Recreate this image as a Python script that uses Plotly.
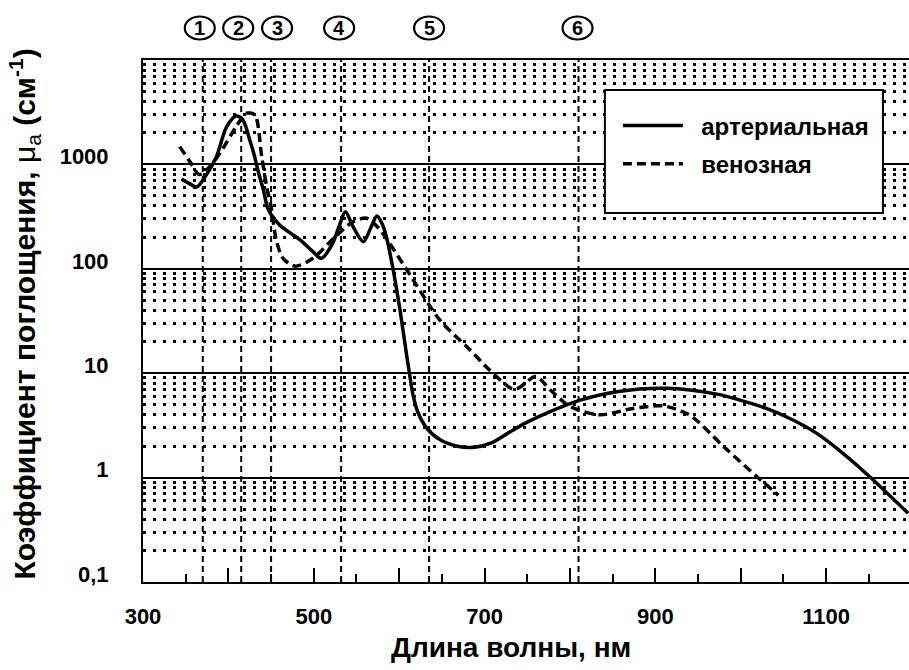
import plotly.graph_objects as go

# ---- data ----
art_wl = [345, 355, 363, 374, 386, 398, 409, 417, 425, 430, 435, 441, 447, 460, 484, 499, 509, 522, 530, 537,
          546, 558, 567, 574, 580, 585, 593, 601, 609, 612, 616, 622, 632, 648, 668, 688, 708, 730, 750, 776,
          812, 855, 913, 972, 1000, 1030, 1060, 1089, 1120, 1151, 1196]
art_mu = [724, 650, 608, 790, 1186, 2296, 2911, 2660, 1714, 1250, 850, 569, 365, 263, 189, 146, 126, 175, 260, 352,
          253, 182, 250, 321, 270, 203, 97.5, 40, 14.4, 10, 6.3, 4.2, 3.0, 2.3, 2.0, 1.95, 2.15, 2.75, 3.4, 4.27,
          5.53, 6.65, 7.16, 6.3, 5.5, 4.6, 3.6, 2.65, 1.7, 1.02, 0.455]

ven_wl = [343, 355, 366, 378, 390, 409, 421, 431, 439, 445, 450, 456, 464, 478, 499, 523, 546, 562, 575, 585,
          609, 648, 683, 706, 735, 760, 777, 800, 835, 874, 909, 940, 980, 1019, 1044]
ven_mu = [1480, 1061, 800, 950, 1277, 2296, 3090, 2970, 1186, 600, 394, 189, 126, 106, 126, 195, 282, 305, 250, 195,
          97.5, 32, 16.7, 10.7, 7.0, 9.3, 6.9, 4.8, 4.0, 4.6, 4.86, 3.98, 1.98, 1.02, 0.68]

marker_wl = [370, 415, 450, 532, 635, 810]
marker_lbl = ["1", "2", "3", "4", "5", "6"]

x_ticks = [300, 400, 500, 600, 700, 800, 900, 1000, 1100]
x_ticklbl = ["300", "", "500", "", "700", "", "900", "", "1100"]
x_minor = [350, 450, 550, 650, 750, 850, 950, 1050, 1150]
y_ticks = [0.1, 1, 10, 100, 1000, 10000]
y_ticklbl = ["0,1", "1", "10", "100", "1000", ""]
y_minor = [k * 10.0 ** e for e in range(-1, 4) for k in range(2, 10)]

series_names = ["артериальная", "венозная"]
x_title = "Длина волны, нм"
y_title = ("Коэффициент поглощения, <span style='font-weight:normal'>μ<sub>a</sub></span> "
           "(см<sup>-1</sup>)")

FONT = "Liberation Sans, Arial, sans-serif"
NBSP = "\u00a0\u00a0"

fig = go.Figure()
fig.add_trace(go.Scatter(x=art_wl, y=art_mu, mode="lines", name=NBSP + series_names[0], legendgroup="a",
                         line=dict(color="black", width=3.5, shape="spline", smoothing=0.9)))
fig.add_trace(go.Scatter(x=ven_wl, y=ven_mu, mode="lines", name=NBSP + series_names[1], legendgroup="v",
                         line=dict(color="black", width=3.5, dash="9px,5px", shape="spline", smoothing=0.8)))

# vertical dashed marker lines
for wl in marker_wl:
    fig.add_shape(type="line", xref="x", yref="paper", x0=wl, x1=wl, y0=0, y1=1,
                  line=dict(color="black", width=2, dash="6px,4px"), layer="below")

# circled numbers above the plot
circ_shift = [-3, -3, 6, -2, 0, -1]
for wl, lbl, dx in zip(marker_wl, marker_lbl, circ_shift):
    fig.add_shape(type="circle", xref="x", yref="paper", xsizemode="pixel", ysizemode="pixel",
                  xanchor=wl, yanchor=1.0613, x0=dx - 15, x1=dx + 15, y0=-11.5, y1=11.5,
                  line=dict(color="black", width=2.2), layer="above")
    fig.add_annotation(x=wl, y=1.0613, xref="x", yref="paper", text="<b>" + lbl + "</b>", showarrow=False,
                       xshift=dx, yanchor="middle", xanchor="center",
                       font=dict(family=FONT, size=20, color="black"))

# legend box
fig.add_shape(type="rect", xref="paper", yref="paper", x0=0.603, x1=0.966, y0=0.7069, y1=0.9425,
              fillcolor="white", line=dict(color="black", width=2), layer="above")

fig.add_annotation(x=0.4804, y=-0.1264, xref="paper", yref="paper", text="<b>" + x_title + "</b>",
                   showarrow=False, xanchor="center", yanchor="middle",
                   font=dict(family=FONT, size=28, color="black"))
fig.add_annotation(x=-0.154, y=0.5125, xref="paper", yref="paper", text="<b>" + y_title + "</b>",
                   showarrow=False, textangle=-90, xanchor="center", yanchor="middle",
                   font=dict(family=FONT, size=30, color="black"))

fig.update_xaxes(range=[300, 1197], showgrid=False, zeroline=False,
                 showline=True, linecolor="black", linewidth=2, mirror=True,
                 tickmode="array", tickvals=x_ticks, ticktext=x_ticklbl,
                 ticks="inside", ticklen=14, tickwidth=2, tickcolor="black",
                 ticklabelstandoff=14,
                 tickfont=dict(family=FONT, size=22, color="black", weight="bold"),
                 minor=dict(tickvals=x_minor, ticks="inside", ticklen=8, tickwidth=2, tickcolor="black"))
fig.update_yaxes(type="log", range=[-1, 4], zeroline=False,
                 showline=True, linecolor="black", linewidth=2, mirror=False,
                 tickmode="array", tickvals=y_ticks, ticktext=y_ticklbl, ticks="",
                 showgrid=True, gridcolor="black", gridwidth=2,
                 ticklabelstandoff=28, ticklabelshift=-8,
                 tickfont=dict(family=FONT, size=22, color="black", weight="bold"),
                 minor=dict(tickvals=y_minor, showgrid=True, gridcolor="black", gridwidth=2.5,
                            griddash="2.5px,7.5px", ticks=""))

fig.update_layout(
    width=909, height=670,
    margin=dict(l=143, r=0, t=60, b=88),
    paper_bgcolor="white", plot_bgcolor="white",
    showlegend=True,
    legend=dict(x=0.62, y=0.917, xanchor="left", yanchor="top", bgcolor="rgba(0,0,0,0)",
                borderwidth=0, traceorder="grouped", tracegroupgap=4, itemwidth=60,
                font=dict(family=FONT, size=24, color="black", weight="bold")),
)

fig.write_html("out.html")
